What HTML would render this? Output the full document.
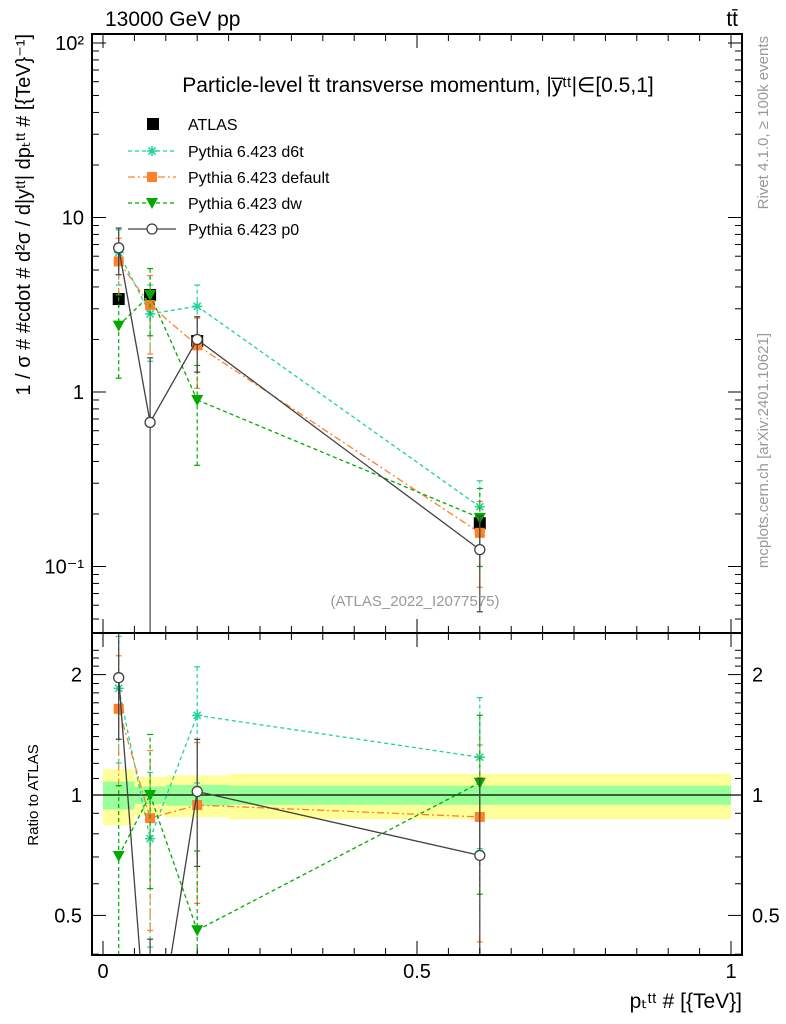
<!DOCTYPE html>
<html><head><meta charset="utf-8"><style>
body{margin:0;background:#fff;overflow:hidden;}
svg{font-family:"Liberation Sans",sans-serif;display:block;}
</style></head><body>
<svg id="c" width="786" height="1024" xmlns="http://www.w3.org/2000/svg"></svg>
<script>
const binLo=[0,0.05,0.1,0.2];
const binHi=[0.05,0.1,0.2,1.0];
const xVals=[0.025,0.075,0.15,0.6];
const atlas=[3.41,3.6,1.96,0.177];
const atlasErr=[0.35,0.4,0.2,0.02];
const bandInner=[0.08,0.05,0.06,0.055];
const bandOuter=[0.16,0.11,0.12,0.13];
const d6t=[6.3,2.8,3.1,0.22];
const d6tErr=[2.2,1.3,1.0,0.09];
const dflt=[5.6,3.15,1.85,0.156];
const dfltErr=[2.0,1.5,0.8,0.08];
const dw=[2.4,3.6,0.9,0.19];
const dwErr=[1.2,1.5,0.52,0.09];
const p0=[6.7,0.67,2.0,0.125];
const p0Err=[2.0,0.9,0.7,0.07];
const yTicks=[0.1,1,10,100];
const yTickLabels=["10\u207B\u00B9","1","10","10\u00B2"];
const rTicks=[0.5,1,2];
const rTickLabels=["0.5","1","2"];
const xTicks=[0,0.5,1];
const xTickLabels=["0","0.5","1"];

const NS="http://www.w3.org/2000/svg", svg=document.getElementById('c');
const L=92,R=742,T=34,M=633,B=955;
const X=v=>103+v*628;
const Yraw=v=>43+(2-Math.log10(v))*174.5;
const RYraw=v=>795-Math.log10(v)*400;
const Y=v=>Math.min(M,Math.max(T,Yraw(v)));
const RY=v=>Math.min(B,Math.max(M,RYraw(v)));
function el(tag,a,parent){const e=document.createElementNS(NS,tag);for(const k in a)e.setAttribute(k,a[k]);(parent||svg).appendChild(e);return e;}
function txt(s,a,parent){const e=el('text',a,parent);e.textContent=s;return e;}

const defs=el('defs',{});
const c1=el('clipPath',{id:'cm'},defs);el('rect',{x:L,y:T,width:R-L,height:M-T},c1);
const c2=el('clipPath',{id:'cr'},defs);el('rect',{x:L,y:M,width:R-L,height:B-M},c2);

const gBand=el('g',{'clip-path':'url(#cr)'});


binLo.forEach((lo,i)=>{
 const r1=el('rect',{x:X(lo),width:X(binHi[i])-X(lo),y:RY(1+bandOuter[i]),height:RY(1-bandOuter[i])-RY(1+bandOuter[i]),fill:'#ffff99'},gBand);
 
 
 const r2=el('rect',{x:X(lo),width:X(binHi[i])-X(lo),y:RY(1+bandInner[i]),height:RY(1-bandInner[i])-RY(1+bandInner[i]),fill:'#99ff99'},gBand);
 
 
});
el('line',{x1:L,x2:R,y1:RY(1),y2:RY(1),stroke:'#000','stroke-width':1.2});

const series=[
 {n:'d6t',v:d6t,e:d6tErr,c:'#1fd39a',dash:'4,3',m:'star'},
 {n:'default',v:dflt,e:dfltErr,c:'#ff7f2a',dash:'7,3,2,3',m:'square'},
 {n:'dw',v:dw,e:dwErr,c:'#00aa00',dash:'4,3',m:'tri'},
 {n:'p0',v:p0,e:p0Err,c:'#404040',dash:'',m:'circle'}
];
function marker(g,m,x,y,c){
 if(m==='square')el('rect',{x:x-5,y:y-5,width:10,height:10,fill:c},g);
 else if(m==='tri')el('path',{d:`M${x-6},${y-5}L${x+6},${y-5}L${x},${y+6}Z`,fill:c},g);
 else if(m==='circle')el('circle',{cx:x,cy:y,r:5,fill:'#fff',stroke:c,'stroke-width':1.3},g);
 else if(m==='star'){for(let a=0;a<4;a++){const t=a*Math.PI/4;el('line',{x1:x-5*Math.cos(t),y1:y-5*Math.sin(t),x2:x+5*Math.cos(t),y2:y+5*Math.sin(t),stroke:c,'stroke-width':1.5},g);}}
 else if(m==='bsq')el('rect',{x:x-6,y:y-6,width:12,height:12,fill:'#000'},g);
}
function clipSeg(x1,y1,x2,y2,lo,hi){
 if((y1<lo&&y2<lo)||(y1>hi&&y2>hi))return null;
 const f=y=>x1+(x2-x1)*(y-y1)/(y2-y1);
 if(y1>hi){x1=f(hi);y1=hi;} if(y1<lo){x1=f(lo);y1=lo;}
 if(y2>hi){x2=f(hi);y2=hi;} if(y2<lo){x2=f(lo);y2=lo;}
 return [x1,y1,x2,y2];
}
function drawSeries(s,clip,ysRaw,ys,vals,errs,lo,hi){
 const g=el('g',{'clip-path':clip});
 
 
 for(let i=0;i<vals.length-1;i++){
  const sg=clipSeg(X(xVals[i]),ysRaw(vals[i]),X(xVals[i+1]),ysRaw(vals[i+1]),lo,hi);
  if(sg)el('line',{x1:sg[0],y1:sg[1],x2:sg[2],y2:sg[3],stroke:s.c,'stroke-width':1.3,'stroke-dasharray':s.dash},g);
 }
 vals.forEach((v,i)=>{const x=X(xVals[i]);
  el('line',{x1:x,x2:x,y1:ys(Math.max(v-errs[i],1e-4)),y2:ys(v+errs[i]),stroke:s.c,'stroke-width':1.2,'stroke-dasharray':s.dash},g);
  [v-errs[i],v+errs[i]].forEach(q=>{if(q>0){const y=ysRaw(q);if(y>lo&&y<hi)el('line',{x1:x-3,x2:x+3,y1:y,y2:y,stroke:s.c,'stroke-width':1.2},g);}});
  const my=ysRaw(v);if(my>lo&&my<hi)marker(g,s.m,x,my,s.c);
 });
}
const ga=el('g',{'clip-path':'url(#cm)'});


atlas.forEach((v,i)=>{const x=X(xVals[i]);el('line',{x1:x,x2:x,y1:Y(v-atlasErr[i]),y2:Y(v+atlasErr[i]),stroke:'#000','stroke-width':1.2},ga);marker(ga,'bsq',x,Y(v));});
series.forEach(s=>{
 drawSeries(s,'url(#cm)',Yraw,Y,s.v,s.e,T,M);
 drawSeries(s,'url(#cr)',RYraw,RY,s.v.map((v,i)=>v/atlas[i]),s.e.map((e,i)=>e/atlas[i]),M,B);
});

el('rect',{x:L,y:T,width:R-L,height:M-T,fill:'none',stroke:'#000','stroke-width':2});
el('rect',{x:L,y:M,width:R-L,height:B-M,fill:'none',stroke:'#000','stroke-width':2});
for(let d=-2;d<=2;d++)for(let k=1;k<10;k++){const v=k*Math.pow(10,d),y=Yraw(v);if(y<T||y>M)continue;const len=k===1?14:7;
 el('line',{x1:L,x2:L+len,y1:y,y2:y,stroke:'#000'});el('line',{x1:R,x2:R-len,y1:y,y2:y,stroke:'#000'});}
yTicks.forEach((v,i)=>{const t=txt(yTickLabels[i],{x:L-8,y:Y(v)+7,'font-size':20,'text-anchor':'end'});});
for(let v=0.4;v<=2.4;v+=0.1){const y=RYraw(v);if(y<M||y>B)continue;const major=rTicks.some(r=>Math.abs(r-v)<1e-6);const len=major?14:7;
 el('line',{x1:L,x2:L+len,y1:y,y2:y,stroke:'#000'});el('line',{x1:R,x2:R-len,y1:y,y2:y,stroke:'#000'});}
rTicks.forEach((v,i)=>{
 let t=txt(rTickLabels[i],{x:L-10,y:RY(v)+7,'font-size':20,'text-anchor':'end'});
 t=txt(rTickLabels[i],{x:R+10,y:RY(v)+7,'font-size':20});});
for(let k=0;k<=20;k++){const v=k*0.05,x=X(v);if(x>R)continue;const len=k%10===0?14:7;
 [[T,1],[M,1],[M,-1],[B,-1]].forEach(([y0,s])=>el('line',{x1:x,x2:x,y1:y0,y2:y0+s*len,stroke:'#000'}));}
xTicks.forEach((v,i)=>{const t=txt(xTickLabels[i],{x:X(v),y:978,'font-size':20,'text-anchor':'middle'});});

let t;
t=txt('13000 GeV pp',{x:105,y:26,'font-size':21});
t=txt('tt\u0304',{x:738,y:26,'font-size':21,'text-anchor':'end'});
t=txt('Particle-level t\u0304t transverse momentum, |y\u0305\u1d57\u1d57|\u2208[0.5,1]',{x:418,y:92,'font-size':21,'text-anchor':'middle'});
t=txt('(ATLAS_2022_I2077575)',{x:415,y:606,'font-size':15,fill:'#999','text-anchor':'middle'});
t=txt('1 / \u03c3 # #cdot # d\u00b2\u03c3 / d|y\u1d57\u1d57| dp\u209c\u1d57\u1d57 # [{TeV}\u207b\u00b9]',{x:0,y:0,'font-size':20,'text-anchor':'end',transform:'translate(30,34) rotate(-90)'});
t=txt('Ratio to ATLAS',{x:0,y:0,'font-size':15,'text-anchor':'middle',transform:'translate(38,795) rotate(-90)'});
t=txt('p\u209c\u1d57\u1d57 # [{TeV}]',{x:742,y:1008,'font-size':21,'text-anchor':'end'});
t=txt('Rivet 4.1.0, \u2265 100k events',{x:0,y:0,'font-size':15,fill:'#999','text-anchor':'end',transform:'translate(768,36) rotate(-90)'});
t=txt('mcplots.cern.ch [arXiv:2401.10621]',{x:0,y:0,'font-size':15,fill:'#999','text-anchor':'end',transform:'translate(768,333) rotate(-90)'});

const lg=el('g',{});


marker(lg,'bsq',153,124);
txt('ATLAS',{x:188,y:130,'font-size':16},lg);
const names=['Pythia 6.423 d6t','Pythia 6.423 default','Pythia 6.423 dw','Pythia 6.423 p0'];
series.forEach((s,i)=>{const y=151+i*26;
 const e=el('g',{},lg);
 
 
 el('line',{x1:128,x2:176,y1:y,y2:y,stroke:s.c,'stroke-width':1.3,'stroke-dasharray':s.dash},e);
 marker(e,s.m,152,y,s.c);
 txt(names[i],{x:188,y:y+6,'font-size':16},e);
});
</script>
</body></html>
